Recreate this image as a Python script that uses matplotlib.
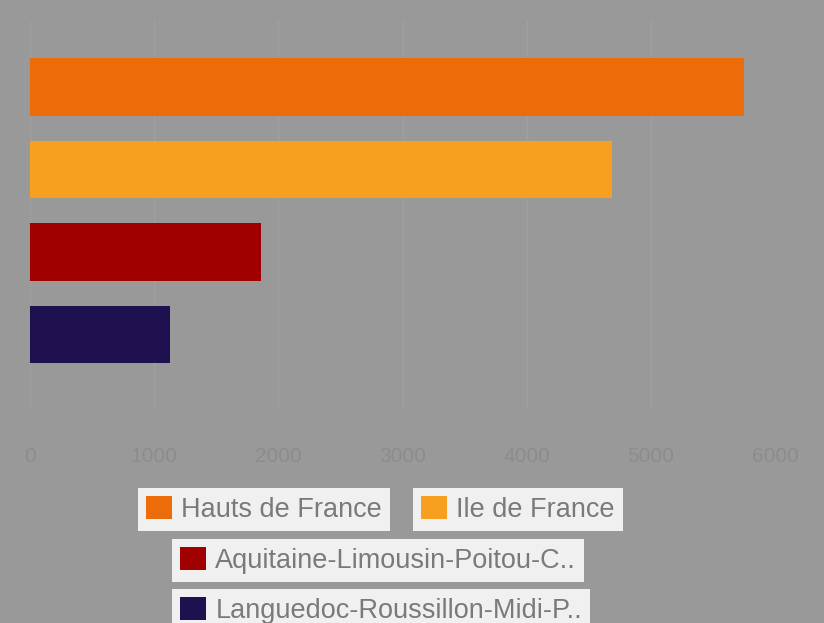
import matplotlib.pyplot as plt

regions = ["Hauts de France", "Ile de France",
           "Aquitaine-Limousin-Poitou-C..", "Languedoc-Roussillon-Midi-P.."]
values = [5750, 4690, 1860, 1125]
colors = ["#ec6c0a", "#f7a01f", "#a00000", "#1f1050"]
xticks = [0, 1000, 2000, 3000, 4000, 5000, 6000]

plt.rcParams['font.family'] = ['Liberation Sans', 'DejaVu Sans']

W, H = 824, 623
fig = plt.figure(figsize=(W / 100, H / 100), dpi=100)
fig.patch.set_facecolor("#999999")

# axes box in pixels: left 30, right 775, top 20, bottom 410
ax = fig.add_axes([30 / W, 1 - 410 / H, (775 - 30) / W, (410 - 20) / H])
ax.set_facecolor("#999999")

pos = list(range(len(regions)))
bars = ax.barh(pos, values, height=0.7, color=colors)

ax.set_xlim(0, 6000)
ax.set_ylim(3.915, -0.812)
ax.set_xticks(xticks)
ax.set_xticklabels([str(t) for t in xticks])
ax.set_yticks([])
ax.tick_params(axis="x", length=0, pad=27, labelsize=15, labelcolor="#8c8c8c")
ax.grid(axis="x", color="#9f9f9f", linewidth=1)
ax.set_axisbelow(True)
for s in ax.spines.values():
    s.set_visible(False)

# one legend box per region, like the original
legend_spots = [(138, 488), (413, 488), (172, 539), (172, 589)]
for bar, name, (lx, ly) in zip(bars, regions, legend_spots):
    leg = fig.legend(handles=[bar], labels=[name], loc="upper left",
                     bbox_to_anchor=(lx / W, 1 - ly / H),
                     fontsize=19.5, labelcolor="#7a7a7a",
                     frameon=True, fancybox=False, framealpha=1,
                     facecolor="#f0f0f0", edgecolor="none",
                     borderpad=0.3, handlelength=0.95, handleheight=0.95,
                     handletextpad=0.35, borderaxespad=0)
    leg._legend_box.sep = 0

fig.savefig("out.png", dpi=100, facecolor=fig.get_facecolor())
